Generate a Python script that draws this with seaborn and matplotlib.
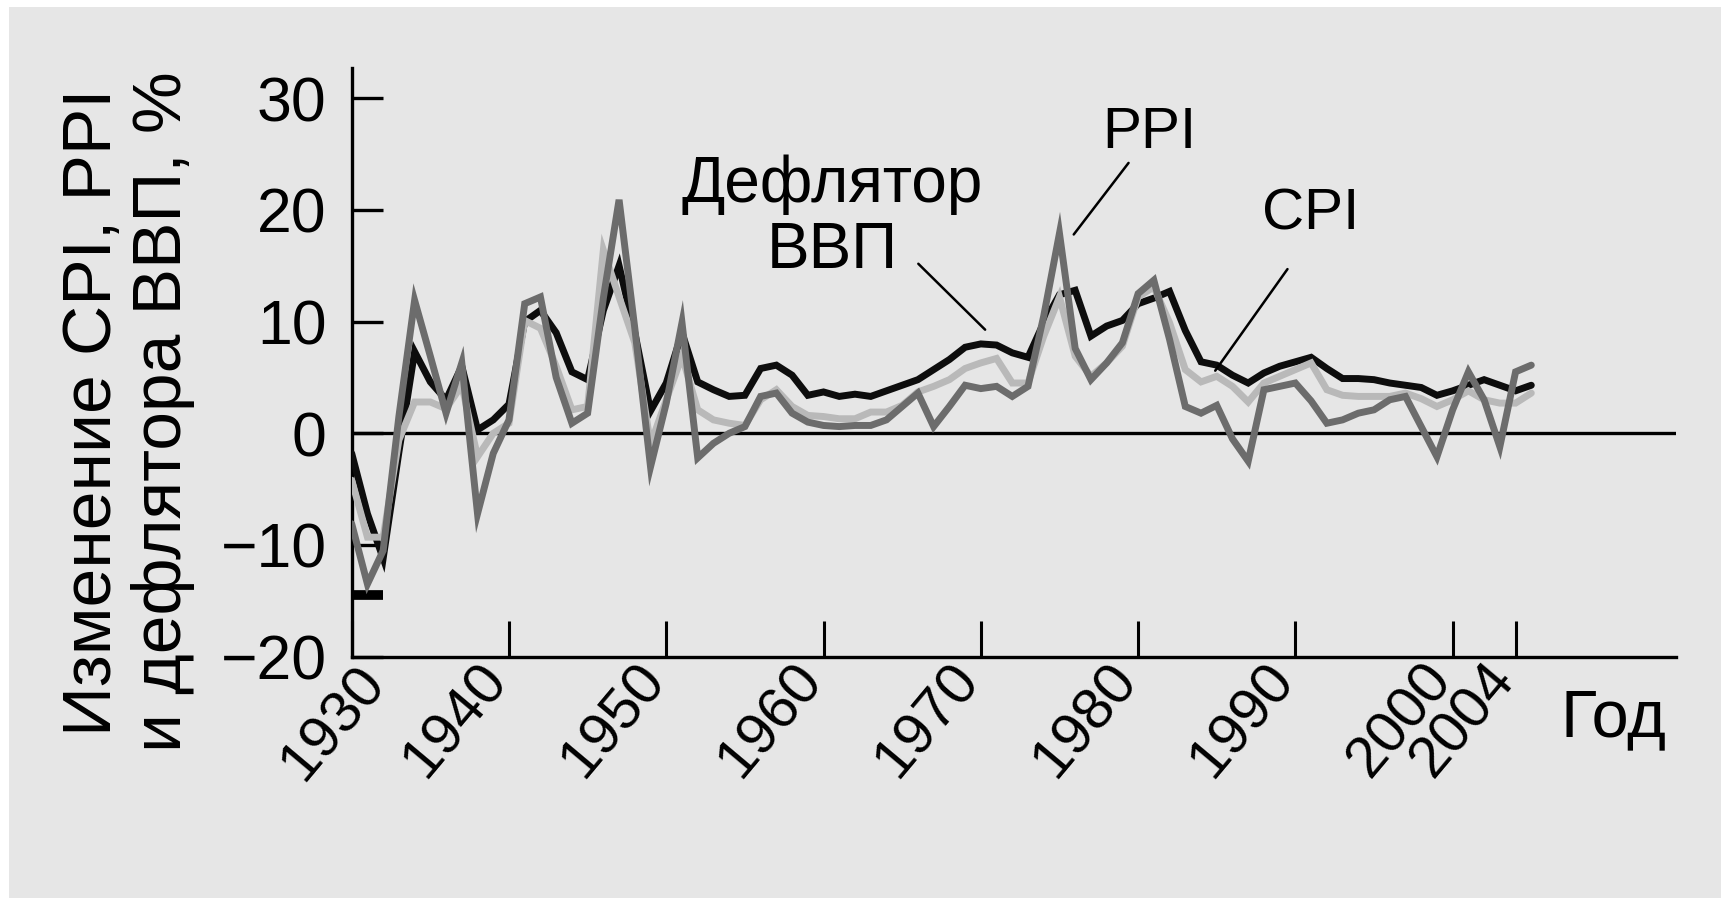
import numpy as np
import pandas as pd
import matplotlib
matplotlib.use("Agg")
import matplotlib.pyplot as plt
from matplotlib.patches import Rectangle
import seaborn as sns

# ---- data: annual change, % ----
years = list(range(1930, 2006))

deflator = [
    -1.8, -7.2, -11.2, -1.7, 7.3, 4.6, 3.0, 6.0, 0.3, 1.2,
    2.6, 10.0, 11.0, 9.0, 5.5, 4.8, 11.0, 15.0, 9.0, 2.0,
    4.5, 9.0, 4.6, 3.9, 3.3, 3.4, 5.8, 6.1, 5.2, 3.4,
    3.7, 3.3, 3.5, 3.3, 3.8, 4.3, 4.8, 5.7, 6.6, 7.7,
    8.0, 7.9, 7.2, 6.8, 9.9, 12.4, 12.8, 8.7, 9.6, 10.1,
    11.6, 12.1, 12.7, 9.2, 6.4, 6.1, 5.2, 4.5, 5.4, 6.0,
    6.4, 6.8, 5.8, 4.9, 4.9, 4.8, 4.5, 4.3, 4.1, 3.4,
    3.8, 4.3, 4.8, 4.3, 3.8, 4.3,
]

ppi = [
    -8.1, -13.5, -10.5, 1.5, 11.9, 6.9, 1.8, 6.3, -7.2, -1.8,
    1.2, 11.6, 12.2, 5.0, 0.9, 1.8, 12.1, 20.9, 9.4, -3.0,
    2.7, 9.9, -2.2, -0.9, 0.0, 0.6, 3.3, 3.6, 1.8, 1.0,
    0.7, 0.6, 0.7, 0.7, 1.2, 2.4, 3.6, 0.6, 2.4, 4.3,
    4.0, 4.2, 3.3, 4.2, 10.5, 17.9, 7.6, 4.8, 6.3, 8.1,
    12.5, 13.7, 8.4, 2.4, 1.8, 2.5, -0.5, -2.5, 3.9, 4.2,
    4.5, 2.9, 0.9, 1.2, 1.8, 2.1, 3.0, 3.3, 0.6, -2.1,
    2.1, 5.5, 3.0, -1.2, 5.5, 6.1,
]

cpi = [
    -4.2, -9.3, -9.3, -0.6, 2.8, 2.8, 2.2, 4.3, -2.1, 0.0,
    0.9, 10.1, 9.4, 6.0, 2.1, 2.4, 16.4, 12.2, 8.1, -1.0,
    3.0, 6.9, 2.1, 1.2, 0.9, 0.7, 3.0, 3.9, 2.4, 1.6,
    1.5, 1.3, 1.3, 1.9, 1.9, 2.5, 3.7, 4.2, 4.8, 5.8,
    6.3, 6.7, 4.5, 4.5, 8.7, 12.2, 6.9, 5.1, 6.3, 7.8,
    12.2, 13.1, 9.9, 5.7, 4.6, 5.1, 4.2, 2.8, 4.5, 5.1,
    5.7, 6.3, 3.9, 3.4, 3.3, 3.3, 3.3, 3.6, 3.1, 2.4,
    3.0, 3.8, 3.0, 2.7, 2.7, 3.6,
]

x_ticks = [1930, 1940, 1950, 1960, 1970, 1980, 1990, 2000, 2004]
y_ticks = [-20, -10, 0, 10, 20, 30]

df = pd.DataFrame({
    "Год": years * 3,
    "value": deflator + cpi + ppi,
    "series": ["Дефлятор ВВП"] * len(years) + ["CPI"] * len(years) + ["PPI"] * len(years),
})

# ---- style ----
sns.set_style("white")
plt.rcParams["font.family"] = ["Liberation Sans", "DejaVu Sans"]
for key in ["text.color", "axes.labelcolor", "xtick.color", "ytick.color"]:
    plt.rcParams[key] = "black"

BG = "#e6e6e6"
FS = 42

fig = plt.figure(figsize=(17.21, 8.98), dpi=100)
fig.patch.set_facecolor(BG)
# thin white margin along the top and left edges
fig.add_artist(Rectangle((0, 0), 9 / 1721, 1, transform=fig.transFigure,
                         facecolor="white", edgecolor="none", zorder=0))
fig.add_artist(Rectangle((0, 1 - 7 / 898), 1, 7 / 898, transform=fig.transFigure,
                         facecolor="white", edgecolor="none", zorder=0))

ax = fig.add_axes([351.7 / 1721, 1 - 656.7 / 898, (1676 - 351.7) / 1721, (656.7 - 68) / 898])
ax.set_facecolor(BG)

colors = {"Дефлятор ВВП": "#0d0d0d", "CPI": "#b9b9b9", "PPI": "#6c6c6c"}
for z, name in enumerate(["Дефлятор ВВП", "CPI", "PPI"]):
    sns.lineplot(data=df[df["series"] == name], x="Год", y="value", ax=ax,
                 color=colors[name], linewidth=5.0, zorder=3 + z, legend=False,
                 solid_joinstyle="miter")

ax.axhline(0, color="black", linewidth=2.4, zorder=2)

ax.set_xlim(1930, 2014.2)
ax.set_ylim(-20, 32.7)

for s in ["top", "right"]:
    ax.spines[s].set_visible(False)
for s in ["left", "bottom"]:
    ax.spines[s].set_linewidth(2.4)
    ax.spines[s].set_color("black")

ax.set_yticks(y_ticks)
ax.set_yticklabels([str(v).replace("-", "\u2212") for v in y_ticks], fontsize=45)

# year labels: the first one sits a little right of its tick
ax.set_xticks(x_ticks)
ax.set_xticklabels([""] + [str(v) for v in x_ticks[1:]], fontsize=FS, rotation=50,
                   ha="right", va="baseline", rotation_mode="anchor")
ax.annotate(str(x_ticks[0]), xy=(x_ticks[0], 0), xycoords=("data", "axes fraction"),
            xytext=(25, -19), textcoords="offset points", fontsize=FS,
            rotation=50, ha="right", va="baseline", rotation_mode="anchor",
            annotation_clip=False)

ax.tick_params(axis="y", direction="in", length=22, width=2.4, pad=18, left=True)
ax.tick_params(axis="x", direction="in", length=26, width=2.2, pad=17, bottom=True)
ax.set_yticks([-14.5], minor=True)
ax.tick_params(axis="y", which="minor", direction="in", length=22, width=7, left=True)

ax.set_xlabel("")
ax.set_ylabel("")

fig.text(128 / 1721, 1 - 412 / 898, "Изменение CPI, PPI\nи дефлятора ВВП, %",
         rotation=90, ha="center", va="center", multialignment="center",
         fontsize=50, linespacing=1.12)
fig.text(1613 / 1721, 1 - 719 / 898, "Год", ha="center", va="center", fontsize=48)

# series labels with leader lines
ax.text(1960.55, 19.3, "Дефлятор\nВВП", ha="center", va="center",
        fontsize=46, linespacing=1.12)
ax.annotate("", xy=(1970.4, 9.1), xytext=(1965.9, 15.35),
            arrowprops=dict(arrowstyle="-", lw=1.8, color="black"))
ax.text(1980.7, 26.9, "PPI", ha="center", va="center", fontsize=FS)
ax.annotate("", xy=(1975.8, 17.6), xytext=(1979.5, 24.4),
            arrowprops=dict(arrowstyle="-", lw=1.8, color="black"))
ax.text(1991.0, 19.55, "CPI", ha="center", va="center", fontsize=FS)
ax.annotate("", xy=(1984.8, 5.4), xytext=(1989.6, 14.9),
            arrowprops=dict(arrowstyle="-", lw=1.8, color="black"))

fig.savefig("out.png", dpi=100, facecolor=fig.get_facecolor())
